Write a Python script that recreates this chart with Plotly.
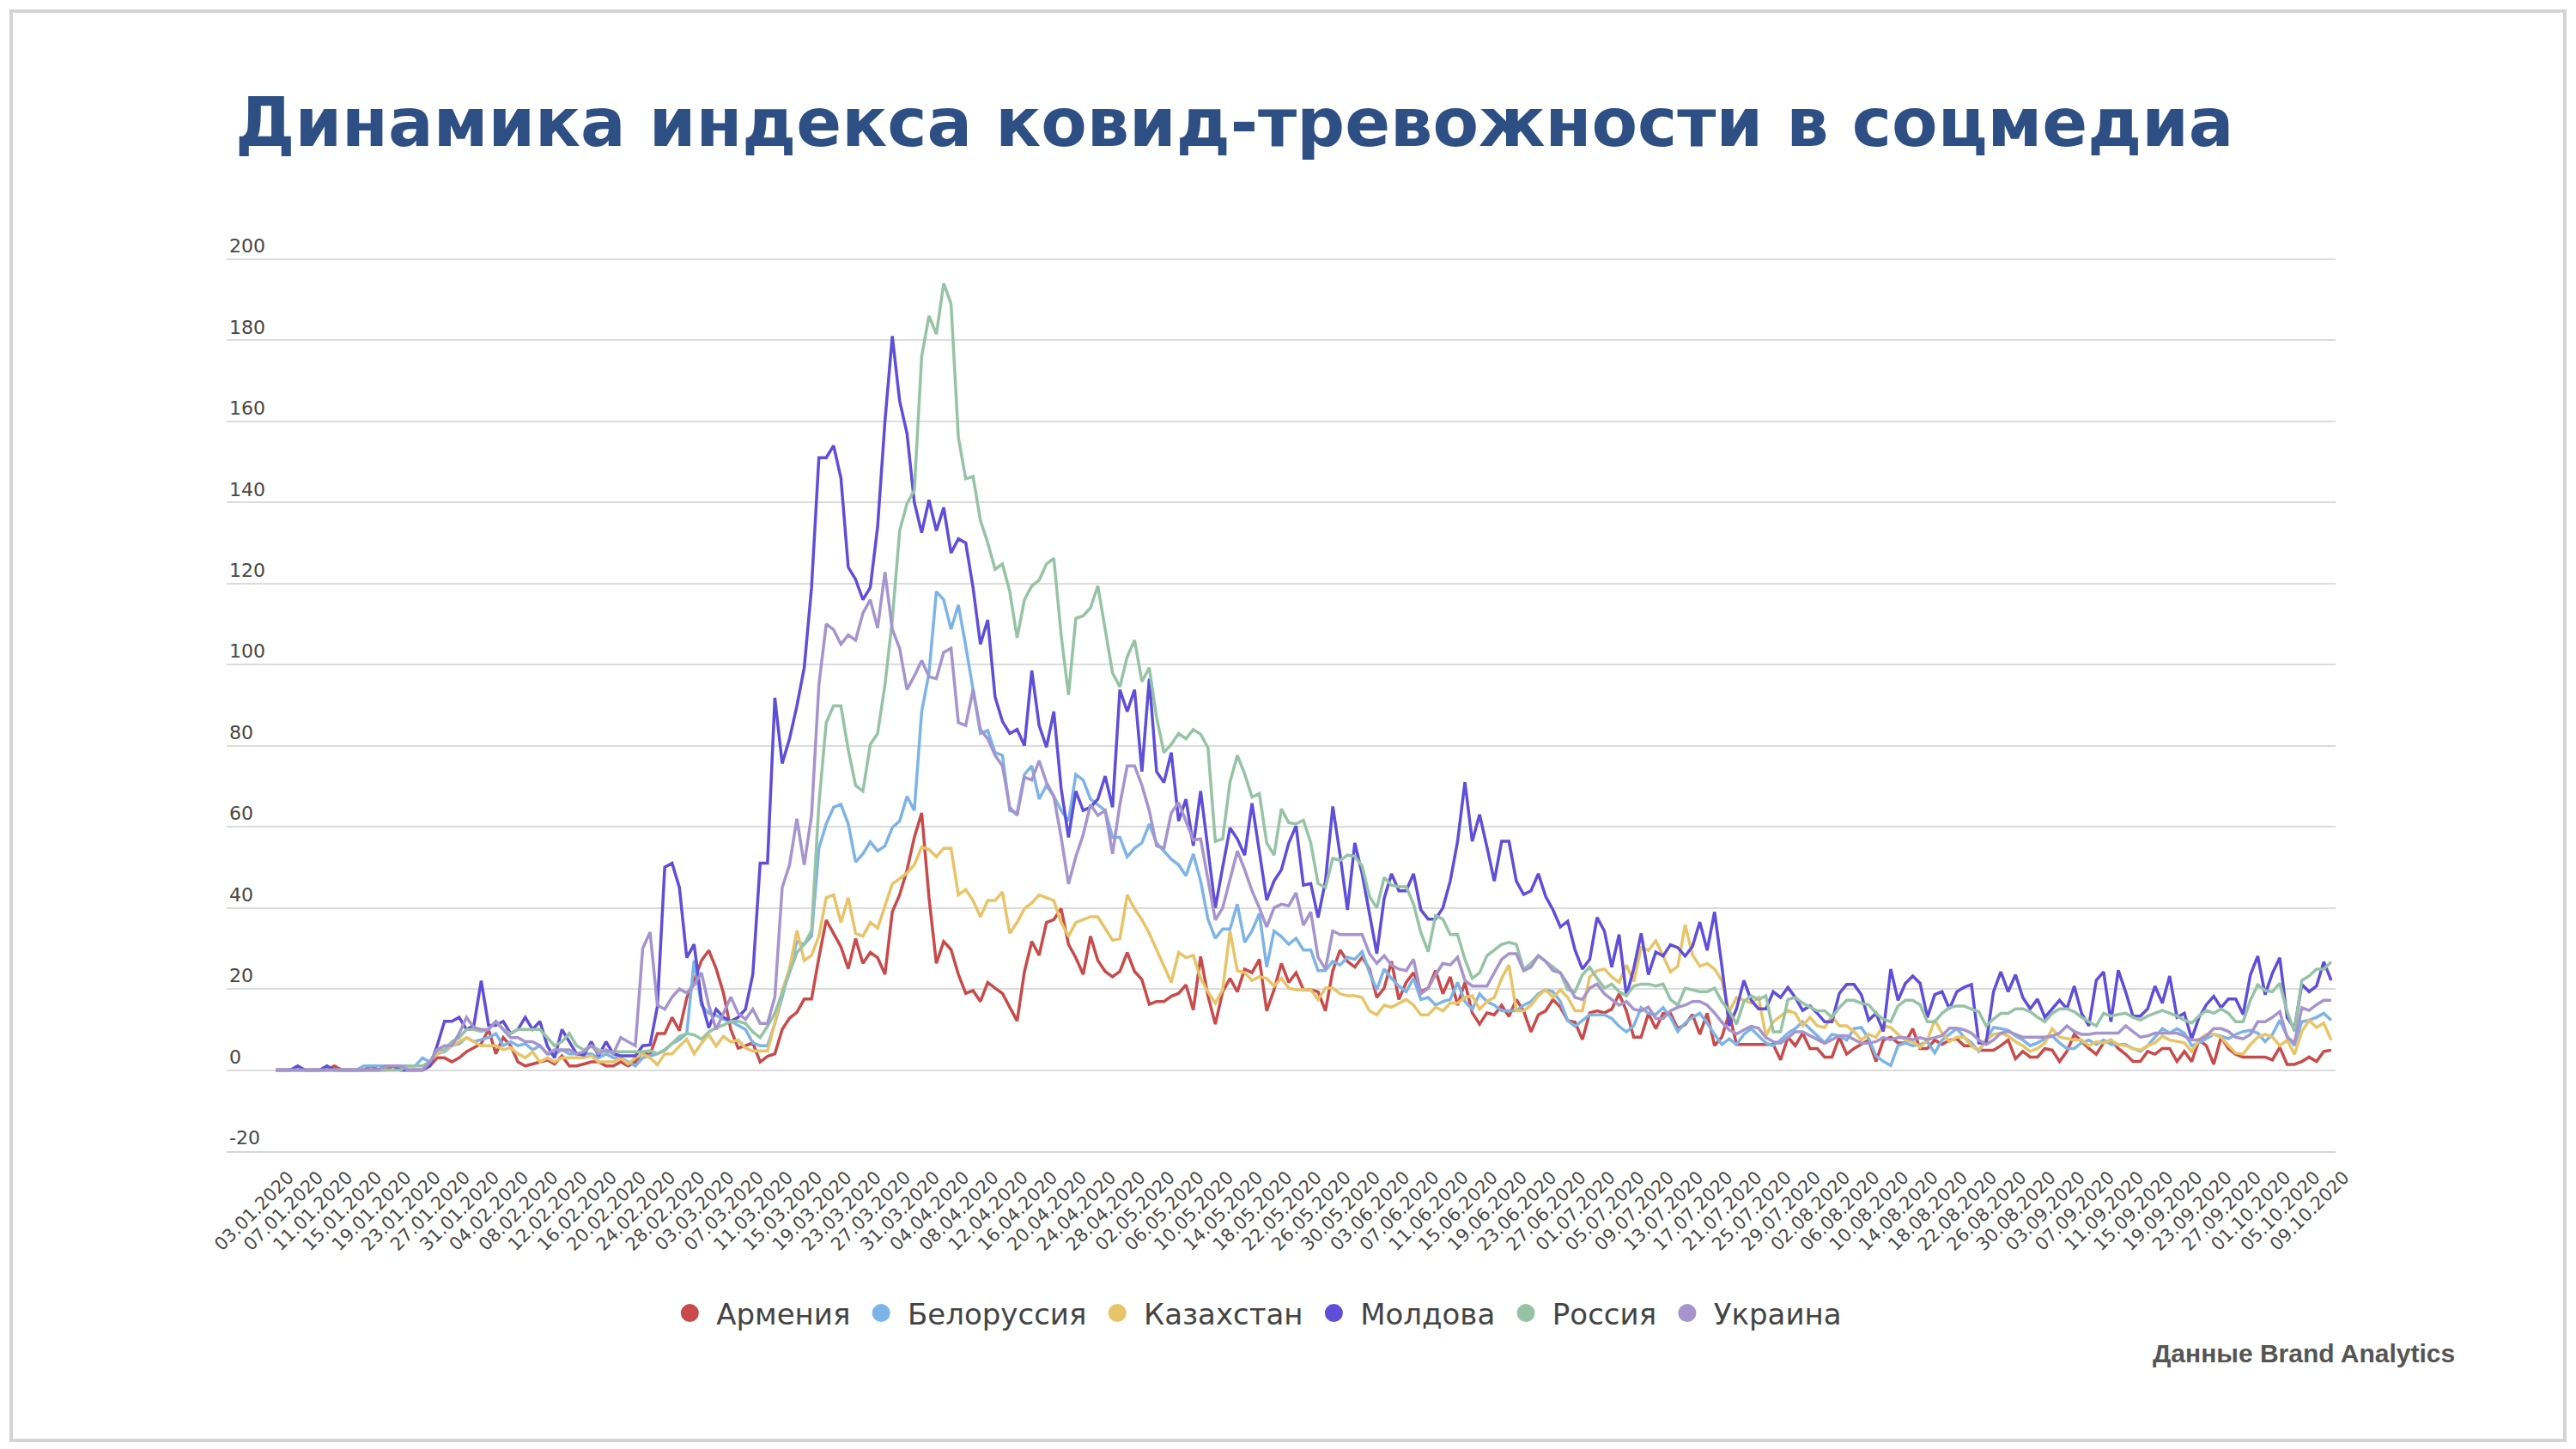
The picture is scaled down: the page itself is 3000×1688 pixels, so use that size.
import pandas as pd
import plotly.graph_objects as go

# ---- categories -------------------------------------------------------
dates = pd.date_range("2020-01-03", "2020-10-09", freq="D")

countries = ["Армения", "Белоруссия", "Казахстан", "Молдова", "Россия", "Украина"]

# ---- series values (daily, 03.01.2020 .. 09.10.2020) ----------------
armenia = [
    0, 0, 0, 0, 0, 0, 0, 0, 1, 0,
    0, 0, 0, 1, 0, 0, 1, 0, 0, 0,
    0, 1, 3, 3, 2, 3, 4.5, 5.5, 6.5, 10,
    4, 8, 6, 2, 1, 1.5, 2, 2.5, 1.5, 3.5,
    1, 1, 1.5, 2, 2, 1, 1, 2, 1, 2,
    4.4, 3.7, 9, 9, 13, 9.7, 17.8, 22, 27, 29.5,
    25, 19, 10, 5.4, 6, 6.7, 2, 3.4, 4, 10,
    12.8, 14.2, 17.5, 17.5, 27.7, 37, 33.7, 30.4, 25, 32.4,
    26.3, 29, 27.7, 23.6, 39, 43.2, 49.3, 57.4, 63.4, 42.5,
    26.3, 31.7, 29.7, 23.6, 18.9, 19.6, 16.9, 21.6, 20.2, 18.9,
    15.5, 12.1, 24.3, 31.7, 28.3, 36.4, 37.1, 39.8, 31, 27.7,
    23.6, 33, 27, 24.3, 23, 24.3, 29, 24.3, 22.3, 16.2,
    16.9, 16.9, 18.2, 18.9, 21, 14.8, 28, 18.3, 11.3, 19.3,
    22.6, 19.3, 24.9, 24, 27.3, 14.6, 19.8, 26.3, 21.6, 24,
    19.8, 19.8, 19.3, 14.6, 24.5, 29.6, 26.8, 25.4, 27.8, 24.9,
    17.9, 20.2, 26.8, 17.4, 21.6, 24, 19.3, 20.2, 24.5, 18.8,
    23, 16, 21.6, 14.1, 11.3, 14.1, 13.6, 16, 13.2, 17.4,
    14.6, 9.4, 13.6, 14.6, 17.4, 15.5, 12.2, 11.8, 7.5, 14.1,
    14.6, 14.1, 15, 18.8, 14.6, 8.1, 8.1, 14, 10.2, 14,
    14, 10.2, 11.2, 13.7, 8.8, 14, 6, 8.1, 14, 6.3,
    6.3, 6.3, 6.3, 6.3, 6.3, 2.5, 8.1, 6, 9.1, 5.3,
    5.3, 3.2, 3.2, 8.1, 3.9, 5.3, 6.3, 7.4, 2.1, 7.4,
    8.1, 6.7, 6.7, 10.2, 5.3, 5.3, 7.4, 6.3, 7.4, 7.7,
    6, 6, 4.9, 4.9, 4.9, 6, 7.4, 2.8, 4.6, 3.2,
    3.2, 5.3, 4.9, 2.1, 4.6, 8.8, 7, 5.3, 3.9, 6.7,
    7.4, 5.3, 3.9, 2.1, 2.1, 4.6, 3.9, 5.3, 5.3, 2.1,
    4.6, 2.1, 7.4, 6, 1.4, 8.1, 5.3, 3.9, 3.2, 3.2,
    3.2, 3.2, 2.5, 5.6, 1.4, 1.4, 2.1, 3.2, 2.1, 4.6,
    4.9,
]

belarus = [
    0, 0, 0, 0, 0, 0, 0, 0, 0, 0,
    0, 0, 1, 1, 1, 1, 1, 1, 1, 1,
    3, 2, 4, 4.5, 6, 6.5, 8, 7, 7.5, 8,
    9, 6, 7, 6, 6.5, 5, 6, 4, 4, 5,
    4, 4, 4, 4, 3, 4, 3, 3, 2, 1,
    3, 3.5, 4, 5, 6.5, 7.5, 9, 27, 16, 14,
    13.5, 12.5, 12, 11, 10, 6.7, 6, 6, 11.5, 18,
    25, 31.7, 31, 33, 54.7, 60.7, 64.8, 65.5, 60.7, 51.3,
    53.3, 56.3, 54, 55.3, 59.8, 61.4, 67.5, 64, 88.4, 97.9,
    118, 116, 108.7, 114.7, 104.6, 93.8, 83, 83.7, 78.3, 77.6,
    64, 63.4, 72.9, 75, 66.8, 70.2, 67.5, 64, 61.4, 72.9,
    71.5, 66.8, 65.5, 64, 57.4, 57.4, 52.6, 54.7, 56, 60.7,
    56, 54, 52, 50.6, 47.9, 53.3, 46.6, 37.2, 32.5, 34.8,
    34.8, 40.9, 31.5, 34.3, 38.6, 25.4, 34.3, 32.9, 31, 32.5,
    29.6, 29.6, 24.5, 24.5, 26.8, 25.9, 27.8, 27.3, 29.2, 24,
    19.8, 24.9, 22.6, 20.7, 19.3, 22.6, 17.4, 17.9, 16, 16.9,
    17.4, 21.6, 16.9, 15, 18.8, 16.9, 16, 14.6, 14.6, 14.6,
    16, 16.9, 18.8, 19.8, 19.3, 16.9, 12.2, 10.8, 12.2, 13.6,
    13.6, 13.6, 12.7, 10.8, 9.4, 10.9, 15.4, 14, 13.7, 15.4,
    13, 9.5, 11.6, 13, 14, 11.6, 8.8, 6.3, 7.7, 6.3,
    8.8, 10.2, 8.4, 6.7, 6, 7.4, 9.1, 10.2, 11.9, 10.2,
    8.4, 6.7, 8.8, 8.4, 7.4, 10.2, 10.5, 7.7, 3.5, 2.1,
    1.1, 6, 6.7, 6, 6.3, 7, 4.2, 7.4, 8.8, 10.2,
    8.1, 6.7, 4.6, 7.4, 10.5, 10.2, 9.8, 8.4, 7.4, 6,
    6.7, 7.7, 8.4, 6.7, 5.3, 5.3, 6.7, 7.4, 6.3, 7.4,
    6.3, 6.3, 6.3, 5.3, 4.6, 6, 8.1, 10.2, 9.1, 10.2,
    9.1, 6, 6.7, 7.7, 8.8, 8.4, 7.7, 8.8, 9.5, 9.8,
    9.1, 7, 8.8, 12.3, 8.4, 6, 11.9, 12.3, 13, 14,
    12.3,
]

kazakhstan = [
    0, 0, 0, 0, 0, 0, 0, 0, 0, 0,
    0, 0, 0, 0, 0, 0, 0, 0, 0, 0,
    0, 2, 4, 5, 6, 7, 8, 7, 6, 6,
    6, 5, 5.5, 4, 3, 4.5, 2, 3, 2, 3,
    3, 3, 3, 3.5, 2, 2, 2, 3, 1.5, 3,
    4, 3, 1.3, 4, 4, 5.9, 7.6, 4, 6.6, 8.7,
    5.9, 8.3, 6.9, 7.4, 5.4, 4.7, 4.7, 4.7, 11.5, 19.6,
    25, 34.4, 27, 28.3, 33, 42.5, 43.2, 36.4, 42.5, 33.7,
    33, 36.4, 35, 40.5, 45.9, 47.2, 48.6, 50.6, 55, 54.4,
    52.6, 54.7, 54.7, 43.2, 44.5, 41.8, 37.8, 41.8, 41.8, 43.9,
    33.7, 36.4, 39.8, 41.2, 43.2, 42.5, 41.8, 36.4, 33, 36.4,
    37.1, 37.8, 37.8, 35, 32, 32.4, 43.2, 39.8, 37.1, 33.7,
    29.7, 25.6, 21.6, 29, 27.7, 28.3, 22.6, 19.3, 16.5, 19.8,
    34.3, 24.5, 24, 22.1, 23, 22.6, 20.7, 22.6, 20.2, 19.8,
    19.8, 19.8, 17.4, 20.2, 20.2, 18.8, 18.3, 18.3, 17.9, 14.6,
    13.6, 16, 15.5, 16.5, 17.4, 16, 13.6, 13.6, 15.5, 14.6,
    16.5, 16.5, 17.9, 18.3, 15, 16.9, 17.9, 22.6, 25.9, 14.6,
    14.6, 16, 18.3, 19.8, 17.9, 19.8, 17.9, 14.6, 14.6, 23,
    24.5, 24.9, 23, 21.6, 25.9, 21.8, 30.2, 29.5, 31.9, 28.1,
    24.2, 25.6, 35.8, 28.4, 25.6, 26.3, 24.9, 22.1, 14.4, 17.9,
    17.2, 16.5, 17.9, 8.4, 11.9, 13.3, 14.7, 14, 10.9, 13,
    10.9, 10.5, 13.3, 10.9, 10.9, 9.5, 7.4, 8.8, 8.1, 10.9,
    10.5, 8.8, 7.4, 7, 5.6, 7.4, 12.3, 9.1, 7, 8.1,
    8.1, 6, 4.9, 7.4, 8.8, 9.1, 8.4, 7, 6, 4.6,
    5.3, 6.7, 10.2, 8.1, 7.7, 7.4, 7.4, 6, 7, 6.7,
    7.4, 6.3, 6, 5.3, 4.9, 6, 6.7, 8.4, 7.4, 7,
    6.7, 4.6, 7.4, 8.8, 8.8, 8.1, 6, 4.2, 3.9, 6.3,
    8.1, 8.8, 8.1, 6, 7.4, 3.9, 9.5, 12.3, 10.5, 11.6,
    7.4,
]

moldova = [
    0, 0, 0, 1, 0, 0, 0, 1, 0, 0,
    0, 0, 0, 0, 0, 1, 1, 0, 0, 0,
    0, 1, 6, 12, 12, 13, 10, 11, 22, 11,
    11, 12, 9, 10, 13, 10, 12, 6, 3, 10,
    7, 4, 3.7, 7, 3.5, 7, 4, 3.5, 3.5, 3.5,
    6, 6.2, 15.7, 50, 51, 45, 27.7, 31, 17, 10.4,
    15, 13, 12, 13, 15, 23.6, 51, 51, 91.8, 75.6,
    81.7, 89.8, 99.2, 119, 151, 151, 154, 146, 124, 121,
    116, 119, 134, 160, 181, 165, 157, 140, 132.5, 140.6,
    133, 138.7, 127.5, 131, 130, 119, 105, 111, 92, 86,
    83, 84, 80, 98.5, 85, 79.6, 88.4, 69.5, 57.4, 68.8,
    64, 64.8, 66.8, 72.5, 64.8, 93.8, 88.4, 93.8, 73.6, 96.5,
    73.6, 70.9, 78.3, 61.4, 66.8, 55.3, 68.8, 54, 40, 50,
    59.7, 57, 53, 65.8, 54, 41.9, 46.6, 49.4, 56, 60.2,
    45.6, 46, 37.6, 46.6, 65, 53, 39.5, 56, 48.4, 39,
    28.7, 42.3, 48.4, 44.2, 44.2, 48.4, 39.5, 37.2, 37.2, 40,
    46.6, 56.4, 71, 56.4, 63, 55, 46.6, 56.4, 56.4, 46.6,
    43.3, 44.2, 48.4, 42.8, 39.5, 35.3, 36.7, 29.6, 24.9, 27.3,
    37.6, 34.3, 25.4, 33.4, 18.3, 25, 33.7, 23.5, 29.1, 28.1,
    30.9, 30.2, 28.1, 30.5, 36.5, 29.5, 39, 25.6, 10.9, 15.1,
    22.1, 17.2, 15.1, 15.1, 19.3, 17.9, 20.4, 17.9, 14.7, 15.8,
    14, 11.9, 11.9, 18.9, 21.1, 21.1, 18.6, 12.3, 14, 9.5,
    24.9, 17.2, 21.4, 23.2, 21.4, 13, 18.6, 19.3, 15.1, 19.3,
    20.4, 21.1, 6.7, 6.7, 19.3, 24.2, 19.3, 23.5, 17.9, 15.1,
    17.5, 13, 15.1, 17.2, 15.1, 20.7, 14, 10.9, 22.1, 24.2,
    11.9, 24.6, 19.3, 13.3, 13.3, 15.1, 20.7, 16.5, 23.2, 13,
    14, 7.7, 13, 16.1, 18.2, 15.4, 17.5, 17.5, 13.7, 23.5,
    28.1, 18.6, 23.9, 27.7, 13, 10.2, 21.1, 19.3, 20.7, 26.7,
    22.1,
]

russia = [
    0, 0, 0, 0, 0, 0, 0, 0, 0, 0,
    0, 0, 0, 0, 0, 0, 0, 0, 1, 1,
    1, 2, 5, 5, 7, 8, 10, 10, 9.5, 10,
    12, 10, 9, 10, 10, 10, 10, 8, 6, 7,
    9, 6, 5, 6, 5, 4.5, 4.5, 4.5, 4.5, 4.5,
    4.5, 4.8, 4, 4.8, 6.6, 8.3, 9, 8.7, 7.6, 9.4,
    10.4, 11.1, 12, 12, 11.5, 9.4, 8, 10.8, 14, 19,
    23.6, 29, 31, 34.4, 65.5, 85.7, 89.8, 89.8, 79, 70.2,
    68.8, 80.3, 83, 95, 111, 133, 139.7, 143, 176, 186,
    181.5, 194, 189, 156, 145.8, 146.4, 135.6, 130, 123.5, 124.8,
    118, 106.6, 116, 119.4, 120.8, 124.8, 126.2, 107.3, 92.5, 111.4,
    112, 114, 119.4, 108.7, 97.9, 94.5, 101.9, 106, 95.8, 99.2,
    87, 78.3, 80.3, 83, 81.7, 84, 82.8, 79.5, 56.4, 57,
    71, 77.6, 73, 67.3, 68.2, 56, 53, 64.4, 61, 60.7,
    61.6, 56, 46, 45, 52.2, 51.7, 53, 52.7, 50.3, 42.8,
    40, 47.5, 45.6, 45.2, 45.2, 40.9, 33.9, 29.2, 38.1, 37.2,
    33.4, 33.4, 27.3, 22.6, 24, 28.2, 29.6, 31, 31.5, 31,
    24.9, 26.3, 28.2, 26.8, 25.4, 24, 19.8, 19.3, 23.5, 25.4,
    22.6, 20.2, 21.2, 19.3, 18.3, 20.7, 21.2, 21.2, 20.7, 21.2,
    17.4, 16, 20.2, 19.8, 19.3, 19.3, 20.2, 16.9, 14.6, 11.3,
    16.9, 18.3, 17.4, 18.3, 9.4, 9.4, 17.4, 17.9, 16.5, 15.5,
    14.6, 14.6, 13, 15.4, 17.2, 17.2, 16.5, 16.1, 14, 12.5,
    11.9, 15.8, 17.2, 17.2, 16.1, 11.9, 11.9, 14, 15.4, 15.8,
    15.8, 15, 14.4, 10.9, 12.6, 14, 14, 15.1, 15.1, 14.4,
    13, 11.9, 14, 15.1, 15.1, 14.4, 13, 11.9, 10.9, 14,
    13.3, 13.7, 14, 13, 12.3, 13.3, 14, 14.7, 14, 13.3,
    12.3, 11.6, 13.3, 14.7, 14, 15.1, 14, 11.9, 11.9, 17.2,
    21, 19.6, 19.3, 21.4, 14.4, 9.5, 22.1, 23.2, 24.9, 24.9,
    26.7,
]

ukraine = [
    0, 0, 0, 0, 0, 0, 0, 0, 0, 0,
    0, 0, 0, 0, 0, 1, 1, 1, 0, 0,
    0, 2, 5, 6, 6, 9, 13, 10.5, 10, 10,
    12, 10, 8, 8, 7, 7, 6, 4, 5, 5,
    5, 4, 4.5, 6, 4, 5, 4, 8, 7, 6,
    30, 34, 16, 15, 18, 20, 19, 21, 24, 16,
    10, 14, 18, 14, 12.5, 15, 11.5, 11.5, 18, 45,
    50.6, 62, 50.6, 62.8, 95, 110, 108.6, 105, 107.3, 106,
    112.7, 116, 109, 122.8, 108.7, 104, 93.8, 97.2, 101, 97,
    96.5, 103, 104, 85.7, 85, 93.8, 84, 81.7, 77.6, 75,
    64.8, 62.8, 72.2, 71.5, 76.3, 70.9, 67.5, 57.4, 45.9, 52.6,
    58, 65.5, 62.8, 64, 53.3, 65.5, 75, 75, 70.2, 64,
    55.3, 54.7, 63.4, 66, 61.4, 56.7, 57, 47, 37, 40,
    47, 54, 49.4, 44.2, 40, 35.3, 40, 40.9, 40.5, 43.7,
    35.7, 39, 27.8, 24.9, 34.3, 33.4, 33.4, 33.4, 33.4, 28.7,
    26.3, 28.2, 25.9, 24.9, 24.5, 27.3, 18.8, 20.2, 23.5, 26.3,
    25.9, 27.8, 22.1, 20.7, 20.7, 20.7, 24, 27.3, 28.7, 28.7,
    24.5, 25.4, 28.2, 26.8, 24.5, 24, 21.2, 17.9, 17.4, 20.2,
    21.2, 18.8, 17.4, 16, 16.9, 15, 14.6, 15.5, 12.7, 12.7,
    14.6, 15.5, 16, 16.9, 16.9, 16, 14.1, 11.8, 9.9, 8.9,
    9.9, 10.8, 10.3, 8, 7, 6.6, 8, 9.4, 9.4, 8.5,
    7.5, 6.6, 7.5, 8.5, 8.5, 7.5, 6.6, 6.6, 7, 8,
    7.5, 8, 8, 7.5, 8, 7.5, 8, 8.5, 10.3, 10.3,
    9.9, 9.1, 7.4, 6.3, 7.4, 9.1, 9.5, 8.8, 8.1, 8.1,
    8.1, 8.1, 8.4, 9.1, 10.9, 9.5, 8.8, 8.8, 9.1, 9.1,
    9.1, 9.1, 10.9, 9.5, 8.1, 8.4, 9.1, 9.1, 9.1, 9.1,
    8.4, 7.4, 7.4, 8.4, 10.2, 10.2, 9.5, 8.1, 7.7, 8.8,
    11.9, 11.9, 13, 14.4, 8.1, 6.7, 15.4, 14.7, 16.1, 17.2,
    17.2,
]

series = [armenia, belarus, kazakhstan, moldova, russia, ukraine]
colors = ["#c84b4b", "#7db4e6", "#e8c468", "#5e4ed8", "#96c3a5", "#a594cd"]

y_ticks = [-20, 0, 20, 40, 60, 80, 100, 120, 140, 160, 180, 200]

TITLE = "Динамика индекса ковид-тревожности в соцмедиа"
SOURCE = "Данные Brand Analytics"

# ---- figure -----------------------------------------------------------
W, H = 3000, 1688
Y_MIN, Y_MAX = -20, 208
ML, MR, MT, MB = 264, 280, 264, 347
PW, PH = W - ML - MR, H - MT - MB


def px_x(p):
    return (p - ML) / PW


def px_y(p):
    return (H - MB - p) / PH


NB = "\u00a0"

fig = go.Figure()
for name, vals, col in zip(countries, series, colors):
    fig.add_trace(go.Scatter(
        x=dates[:len(vals)], y=vals, mode="lines", name=name,
        line=dict(color=col, width=3.5), showlegend=False, hoverinfo="skip",
    ))
for name, col in zip(countries, colors):
    fig.add_trace(go.Scatter(
        x=[None], y=[None], mode="markers", name=NB + name + NB,
        marker=dict(symbol="circle", size=16, color=col,
                    line=dict(color=col, width=5)),
        showlegend=True,
    ))

x_start = dates[0] - pd.Timedelta(hours=6.67 * 24)
x_end = dates[-1] + pd.Timedelta(hours=0.6 * 24)

fig.update_layout(
    width=W, height=H,
    margin=dict(l=ML, r=MR, t=MT, b=MB, pad=0),
    paper_bgcolor="white", plot_bgcolor="white",
    font=dict(family="DejaVu Sans", color="#4a4a4a"),
    showlegend=True,
    legend=dict(
        orientation="h", x=0.492, xanchor="center",
        y=px_y(1530), yanchor="middle",
        font=dict(family="DejaVu Sans", size=34, color="#444444"),
        itemsizing="trace", bgcolor="rgba(0,0,0,0)",
    ),
    xaxis=dict(
        type="date", range=[x_start, x_end],
        tick0=dates[0], dtick=4 * 86400000, tickformat="%d.%m.%Y",
        tickangle=-45, ticks="", showgrid=False, zeroline=False,
        showline=True, linecolor="#d6d6d6", linewidth=2,
        tickfont=dict(family="DejaVu Sans", size=21, color="#484848"),
        ticklabelstandoff=8, ticklabelshift=15,
    ),
    yaxis=dict(
        range=[Y_MIN, Y_MAX], tickmode="array", tickvals=y_ticks,
        ticktext=[str(v) for v in y_ticks],
        ticklabelposition="inside top", ticks="",
        showgrid=True, gridcolor="#dcdcdc", gridwidth=2,
        zeroline=False, showline=False,
        tickfont=dict(family="DejaVu Sans", size=22, color="#484848"),
        ticklabelstandoff=0,
    ),
    shapes=[dict(
        type="rect", xref="paper", yref="paper",
        x0=px_x(13), x1=px_x(2987), y0=px_y(1678), y1=px_y(13),
        line=dict(color="#d4d4d4", width=4), fillcolor="rgba(0,0,0,0)",
        layer="below",
    )],
    annotations=[
        dict(text=TITLE, xref="paper", yref="paper",
             x=px_x(272), y=px_y(143), xanchor="left", yanchor="middle",
             showarrow=False,
             font=dict(family="DejaVu Sans", size=78, color="#2d4f84",
                       weight="bold")),
        dict(text=SOURCE, xref="paper", yref="paper",
             x=px_x(2861), y=px_y(1576), xanchor="right", yanchor="middle",
             showarrow=False,
             font=dict(family="Liberation Sans", size=30, color="#555555",
                       weight="bold")),
    ],
)

fig.write_html(
    "out.html",
    config={"displayModeBar": False},
    post_script="document.body.style.margin='0';document.body.style.overflow='hidden';",
)
